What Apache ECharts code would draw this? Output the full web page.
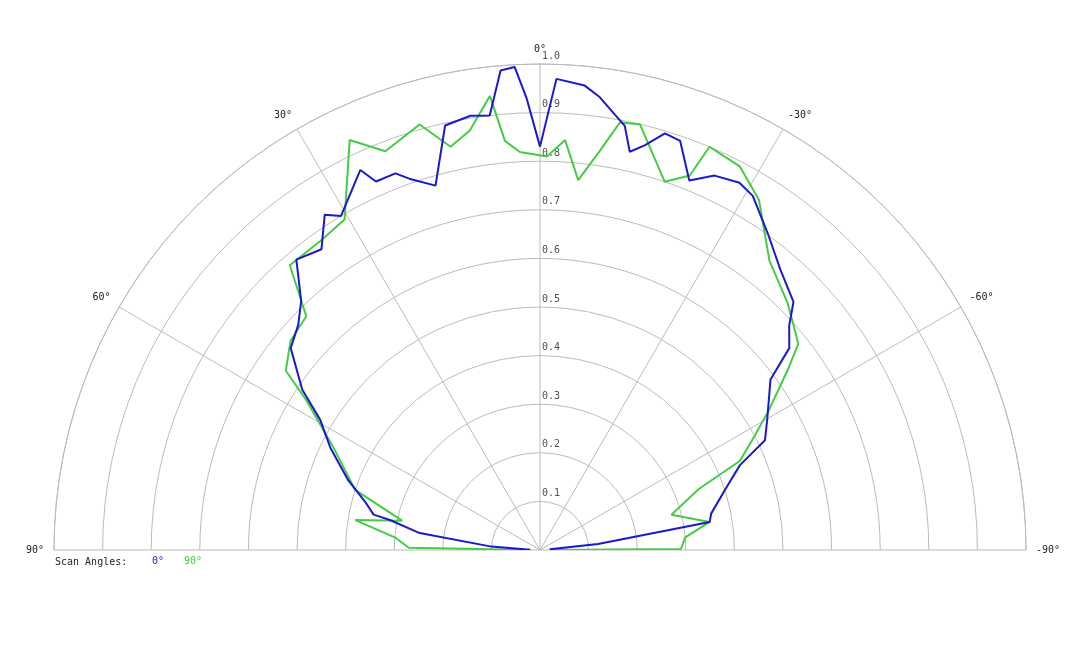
<!DOCTYPE html>
<html><head><meta charset="utf-8">
<script src="https://cdn.jsdelivr.net/npm/echarts@6/dist/echarts.min.js"></script>
<style>html,body{margin:0;padding:0;background:#fff}#c{width:1080px;height:648px}</style>
</head><body><div id="c"></div>
<script>
// scan angle (deg, positive = left) and normalized gain
const blueAngles = [-86,-84,-80.6,-78,-72,-67,-64,-60,-53.5,-51,-48,-45.6,-40.6,-36,-31,-28.5,-25,-22,-18.9,-16.7,-14.5,-12.7,-11.3,-7.5,-5.5,-2,0,1.7,3,4.7,6.6,9.1,12.6,16,19.4,21,24,25.3,30.8,32.7,36,40,43.8,47,51,56,59.4,64,70,75,78,78.7,82,86,89];
const blueR =      [0.02,0.12,0.354,0.36,0.40,0.447,0.515,0.54,0.59,0.66,0.69,0.73,0.76,0.80,0.85,0.86,0.85,0.82,0.89,0.895,0.86,0.84,0.89,0.94,0.96,0.97,0.83,0.93,0.995,0.99,0.90,0.905,0.895,0.78,0.81,0.83,0.83,0.865,0.80,0.82,0.765,0.78,0.71,0.68,0.66,0.59,0.525,0.48,0.42,0.37,0.35,0.315,0.25,0.10,0.02];
const greenAngles = [-89.8,-89.6,-85,-80.6,-75,-69,-66,-62,-58.7,-54,-51.4,-48,-45,-38.4,-32,-27.5,-22.8,-21.8,-18.7,-13.2,-10.6,-8.5,-5.9,-3.5,-1,2.9,4.9,6.3,9.5,12.5,15.8,21.2,24.9,30.6,35.4,41.3,45,50,54.8,57.4,64,72,78,80.8,85,89,89.8];
const greenR =      [0.02,0.29,0.30,0.354,0.28,0.35,0.45,0.50,0.55,0.63,0.68,0.70,0.72,0.76,0.85,0.89,0.90,0.83,0.80,0.90,0.895,0.83,0.765,0.845,0.81,0.82,0.845,0.94,0.875,0.85,0.91,0.88,0.93,0.79,0.78,0.78,0.68,0.67,0.64,0.57,0.47,0.40,0.29,0.385,0.30,0.27,0.02];
const radiusTicks = [0.1,0.2,0.3,0.4,0.5,0.6,0.7,0.8,0.9,1.0];
const toPlot = (a, r) => a.map((v, i) => [r[i], 90 - v]);
const mono = 'DejaVu Sans Mono';
const chart = echarts.init(document.getElementById('c'));
chart.setOption({
  animation: false,
  polar: { center: [540, 550], radius: 486 },
  angleAxis: {
    type: 'value', min: 0, max: 180, interval: 30, startAngle: 180, endAngle: 0, clockwise: true,
    axisLine: { lineStyle: { color: '#bbb' } },
    axisTick: { show: false },
    splitLine: { show: true, lineStyle: { color: '#bbb' } },
    axisLabel: { fontFamily: mono, fontSize: 10, color: '#222', margin: 10, formatter: v => (90 - v) + '°' }
  },
  radiusAxis: {
    type: 'value', min: 0, max: 1, interval: 0.1,
    axisLine: { show: false }, axisTick: { show: false }, axisLabel: { show: false },
    splitLine: { show: true, lineStyle: { color: '#bbb' } }
  },
  legend: {
    left: 146, top: 556, itemWidth: 1, itemHeight: 1, icon: 'rect', itemGap: 14, padding: 0,
    textStyle: { fontFamily: mono, fontSize: 10 },
    data: [{ name: '0°', textStyle: { color: '#1a1acc' } }, { name: '90°', textStyle: { color: '#44cc44' } }]
  },
  graphic: [{ type: 'text', left: 55, top: 557, style: { text: 'Scan Angles:', font: '10px "DejaVu Sans Mono"', fill: '#222' } }],
  series: [
    { name: '90°', type: 'line', coordinateSystem: 'polar', data: toPlot(greenAngles, greenR), symbol: 'none', lineStyle: { color: '#44cc44', width: 2 }, itemStyle: { color: '#ffffff' } },
    { name: '0°', type: 'line', coordinateSystem: 'polar', data: toPlot(blueAngles, blueR), symbol: 'none', lineStyle: { color: '#1a1acc', width: 2 }, itemStyle: { color: '#ffffff' } },
    { name: 'ticks', type: 'scatter', coordinateSystem: 'polar', symbolSize: 0, silent: true,
      data: radiusTicks.map(r => [r, 90]),
      label: { show: true, position: 'right', distance: 2, offset: [0, -8], formatter: p => p.value[0].toFixed(1), fontFamily: mono, fontSize: 10, color: '#222' } }
  ]
});
</script></body></html>
